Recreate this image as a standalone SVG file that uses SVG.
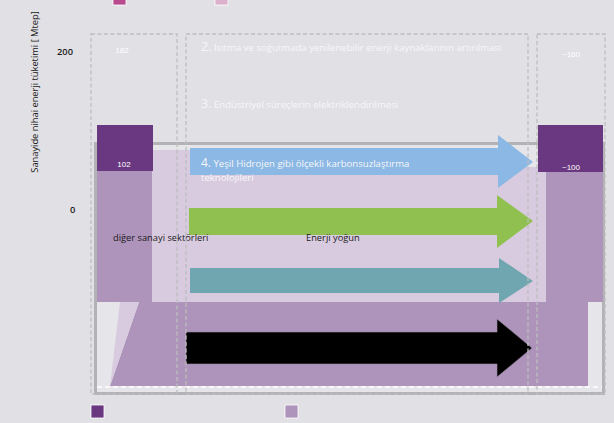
<svg xmlns="http://www.w3.org/2000/svg" width="614" height="423" viewBox="0 0 614 423">
<style>
.dash{fill:none;stroke:#bdbdbf;stroke-width:1.3;stroke-dasharray:4 2.5}
.w{fill:#f7f7f9;font-family:"Open Sans","Liberation Sans",sans-serif;font-size:9.6px}
.k{fill:#1a1a1a;font-family:"Open Sans","Liberation Sans",sans-serif;font-size:9.3px}
.v{fill:#ffffff;font-family:"Liberation Sans",sans-serif;font-size:8px}
.dp{fill:#6a3880}
.lp{fill:#ae94bb}
.lv{fill:#d8cbdf}
</style>
<rect width="614" height="423" fill="#e1e0e4"/>
<g id="legend-top">
<rect x="113" y="-2" width="13" height="7" fill="#b84a8e" stroke="#ffffff" stroke-width="0.8"/>
<rect x="215" y="-2" width="13" height="7" fill="#dbb0cc" stroke="#ffffff" stroke-width="0.8"/>
</g>
<g id="axis">
<text class="k" transform="translate(38,92) rotate(-90)" text-anchor="middle" font-size="9.9">Sanayide nihai enerji tüketimi [ Mtep]</text>
<text class="k" x="57" y="55" font-weight="600" font-size="9">200</text>
<text class="k" x="70" y="213" font-weight="600" font-size="9">0</text>
</g>
<g id="panel">
<rect x="95.5" y="143.5" width="508" height="250" fill="#e6e5e9" stroke="#b3b3b5" stroke-width="3"/>
<rect x="97" y="150" width="450" height="152" class="lv"/>
<rect x="480" y="147" width="67" height="20" fill="#e6e5e9"/>
<polygon points="97,302 588,302 588,386 110,386 139,302" class="lp"/>
<polygon points="120,302 139,302 110,386" class="lv"/>
<line x1="97" y1="387" x2="602" y2="387" stroke="#ffffff" stroke-width="1.5" stroke-dasharray="5 3"/>
</g>
<g id="bar-left">
<rect x="97" y="125" width="56" height="46" class="dp"/>
<rect x="97" y="171" width="55" height="131" class="lp"/>
<text class="v" x="124" y="167" text-anchor="middle">102</text>
<text class="v" x="122" y="53" text-anchor="middle" fill="#f0f0f0">182</text>
</g>
<g id="bar-right">
<rect x="538" y="125" width="65" height="47" class="dp"/>
<rect x="546" y="172" width="57" height="130" class="lp"/>
<text class="v" x="571" y="170" text-anchor="middle">~100</text>
<text class="v" x="571" y="57" text-anchor="middle">~160</text>
</g>
<g id="connectors">
<polygon id="arrow-blue" points="190,148 498,148 498,135 533,162 498,188 498,175 190,175" fill="#8bb8e4"/>
<polygon id="arrow-green" points="189,208 497,208 497,195 533,221 497,248 497,235 189,235" fill="#8fc050"/>
<polygon id="arrow-teal" points="190,268 499,268 499,258 533,281 499,303 499,293 190,293" fill="#6fa6b0"/>
<polygon id="arrow-black" points="186,332 497,332 497,319 532,348 497,377 497,364 186,364" fill="#000000" stroke="#9a86a6" stroke-width="0.6"/>
</g>
<g id="label-2">
<text class="w" x="201" y="51"><tspan font-size="12.5">2.</tspan> Isıtma ve soğutmada yenilenebilir enerji kaynaklarının artırılması</text>
</g>
<g id="label-3">
<text class="w" x="201" y="108"><tspan font-size="12.5">3.</tspan> Endüstriyel süreçlerin elektriklendirilmesi</text>
</g>
<g id="label-4">
<text class="w" x="201" y="167"><tspan font-size="12">4.</tspan> Yeşil Hidrojen gibi ölçekli karbonsuzlaştırma</text>
<text class="w" x="201" y="181">teknolojileri</text>
</g>
<g id="labels-sectors">
<text class="k" x="113" y="241">diğer sanayi sektörleri</text>
<text class="k" x="306" y="241">Enerji yoğun</text>
</g>
<g id="dashed-boxes">
<rect class="dash" x="91" y="34" width="86" height="360"/>
<rect class="dash" x="186" y="34" width="342" height="360"/>
<rect class="dash" x="537" y="34" width="68" height="360"/>
</g>
<g id="legend-bottom">
<rect x="91" y="405" width="13" height="13" fill="#6a3880" stroke="#ffffff" stroke-width="0.8"/>
<rect x="285" y="405" width="13" height="13" fill="#ae94bb" stroke="#ffffff" stroke-width="0.8"/>
</g>
</svg>
